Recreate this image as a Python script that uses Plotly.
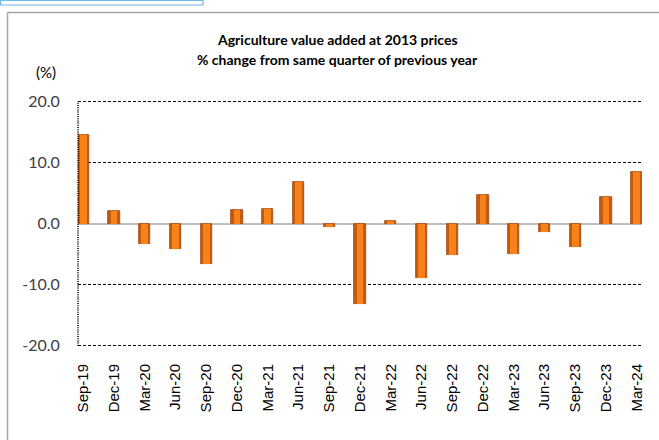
import plotly.graph_objects as go

# Quarterly agriculture value added growth (% change from same quarter of previous year)
quarters = ["Sep-19", "Dec-19", "Mar-20", "Jun-20", "Sep-20", "Dec-20", "Mar-21",
            "Jun-21", "Sep-21", "Dec-21", "Mar-22", "Jun-22", "Sep-22", "Dec-22",
            "Mar-23", "Jun-23", "Sep-23", "Dec-23", "Mar-24"]
growth = [14.4, 2.0, -3.3, -4.2, -6.7, 2.2, 2.4, 6.8, -0.6, -13.1, 0.4, -8.9,
          -5.2, 4.6, -5.0, -1.4, -3.8, 4.3, 8.4]
y_ticks = [-20, -10, 0, 10, 20]
y_tick_text = ["-20.0", "-10.0", "0.0", "10.0", "20.0"]

fig = go.Figure()

# soft halo around each bar
fig.add_trace(go.Bar(x=quarters, y=growth, width=0.43,
                     marker=dict(color="rgba(110,110,110,0.15)", line=dict(width=0)),
                     hoverinfo="skip", showlegend=False))
# darker bevelled outer body
fig.add_trace(go.Bar(x=quarters, y=growth, width=0.37,
                     marker=dict(color="#C45A10", line=dict(color="#A94C0C", width=0.8)),
                     showlegend=False))
# bright inner face
fig.add_trace(go.Bar(x=quarters, y=growth, width=0.22,
                     marker=dict(color="#F7821C", line=dict(width=0)),
                     hoverinfo="skip", showlegend=False))

L, R, T, B = 78, 17, 100, 93
W, H = 659, 440
pw, ph = W - L - R, H - T - B

def px_x(px):
    return (px - L) / pw

def px_y(py):
    return (H - B - py) / ph

frame = dict(color="#A6A6A6", width=1.5)

fig.update_layout(
    width=W, height=H,
    margin=dict(l=L, r=R, t=T, b=B, pad=0),
    paper_bgcolor="white", plot_bgcolor="white",
    barmode="overlay",
    bargap=0,
    xaxis=dict(type="category", range=[-0.17, 18.17], tickangle=-90,
               showgrid=False, zeroline=False, showline=False,
               ticks="outside", ticklen=10, tickcolor="rgba(0,0,0,0)",
               tickfont=dict(family="Liberation Sans", size=15, color="#000000")),
    yaxis=dict(range=[-20.2, 20.2], tickvals=y_ticks, ticktext=y_tick_text,
               showgrid=True, gridcolor="#000000", gridwidth=1.4, griddash="3px,2px",
               zeroline=True, zerolinecolor="#BFBFBF", zerolinewidth=2.2,
               showline=False, ticks="outside", ticklen=14,
               tickcolor="rgba(0,0,0,0)",
               tickfont=dict(family="Lato", size=16, color="#404040")),
    shapes=[
        # dotted vertical value axis
        dict(type="line", xref="paper", yref="y", x0=0, x1=0, y0=-20, y1=20,
             line=dict(color="#000000", width=1.6, dash="1px,1.2px")),
        # chart frame: top and left edges, kept inside the page
        dict(type="line", xref="paper", yref="paper",
             x0=px_x(7.5), x1=px_x(659), y0=px_y(12.5), y1=px_y(12.5),
             line=frame, layer="below"),
        dict(type="line", xref="paper", yref="paper",
             x0=px_x(7.5), x1=px_x(7.5), y0=px_y(12.5), y1=px_y(440),
             line=frame, layer="below"),
        # small box at the top-left corner
        dict(type="rect", xref="paper", yref="paper",
             x0=px_x(0.5), x1=px_x(203), y0=px_y(5), y1=px_y(0.5),
             line=dict(color="#6CB8E6", width=1.2), layer="below"),
    ],
    annotations=[
        dict(text="<b>Agriculture value added at 2013 prices</b>",
             xref="paper", yref="paper", x=px_x(337), y=px_y(40),
             xanchor="center", yanchor="middle", showarrow=False,
             font=dict(family="Lato", size=14, color="#000000")),
        dict(text="<b>% change from same quarter of previous year</b>",
             xref="paper", yref="paper", x=px_x(337), y=px_y(59),
             xanchor="center", yanchor="middle", showarrow=False,
             font=dict(family="Lato", size=14, color="#000000")),
        dict(text="(%)", xref="paper", yref="paper", x=px_x(46), y=px_y(72),
             xanchor="center", yanchor="middle", showarrow=False,
             font=dict(family="Lato", size=15, color="#000000")),
    ],
)

# keep the page from showing scrollbars around the fixed-size figure
fig.write_html(
    "out.html",
    post_script="document.documentElement.style.overflow='hidden';"
                "document.body.style.overflow='hidden';"
                "document.body.style.margin='0';",
)
